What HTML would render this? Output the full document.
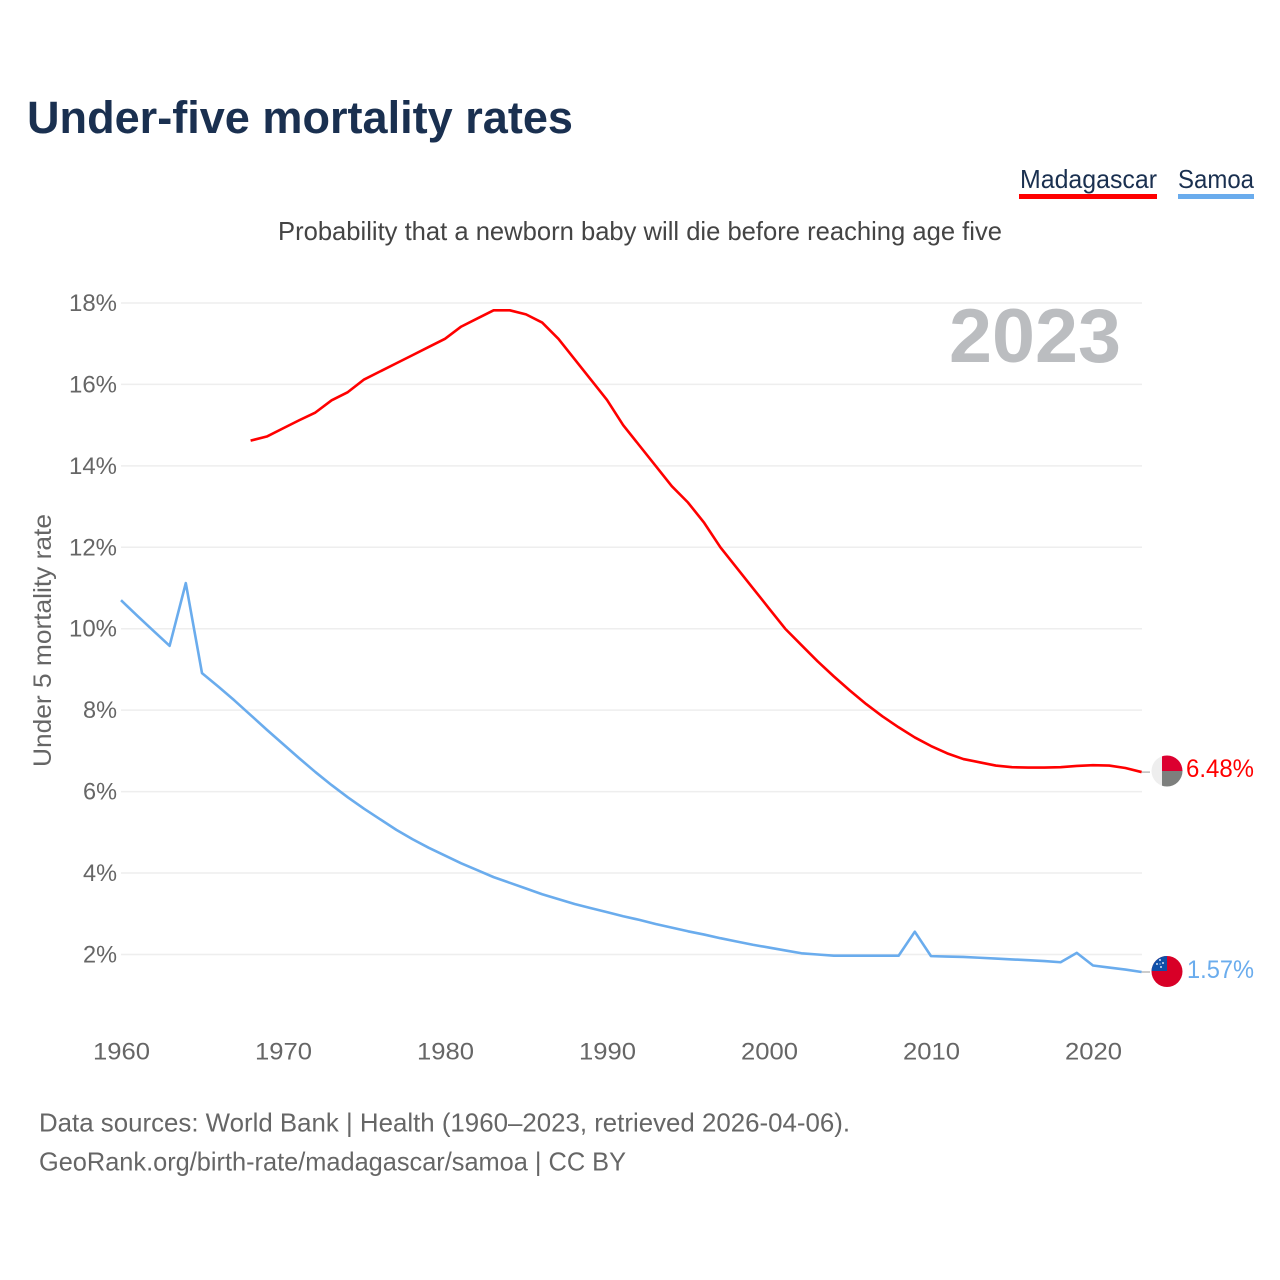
<!DOCTYPE html>
<html lang="en">
<head>
<meta charset="utf-8">
<title>Under-five mortality rates</title>
<style>
html,body{margin:0;padding:0;background:#fff;}
svg{display:block;font-family:"Liberation Sans",sans-serif;}
</style>
</head>
<body>
<svg id="chart" width="1280" height="1280" viewBox="0 0 1280 1280" xmlns="http://www.w3.org/2000/svg">
  <rect width="1280" height="1280" fill="#fff"/>
  <text x="27" y="133" font-size="45" font-weight="700" fill="#1a3050" textLength="546" lengthAdjust="spacingAndGlyphs">Under-five mortality rates</text>
  <g>
    <text x="1020" y="188" font-size="26" fill="#1a3050" textLength="137" lengthAdjust="spacingAndGlyphs">Madagascar</text>
    <rect x="1019" y="194" width="138" height="5" fill="#ff0000"/>
  </g>
  <g>
    <text x="1178" y="188" font-size="26" fill="#1a3050" textLength="76" lengthAdjust="spacingAndGlyphs">Samoa</text>
    <rect x="1178" y="194" width="76" height="5" fill="#6aaced"/>
  </g>
  <text x="278" y="240" font-size="26" fill="#444" textLength="724" lengthAdjust="spacingAndGlyphs">Probability that a newborn baby will die before reaching age five</text>
  <g id="grid"></g>
  <g id="yticks"></g>
  <g id="xticks"></g>
  <text transform="translate(51,767) rotate(-90)" x="0" y="0" font-size="25" fill="#666" textLength="253" lengthAdjust="spacingAndGlyphs">Under 5 mortality rate</text>
  <text x="949" y="362" font-size="76" font-weight="700" fill="#bbbdc0" textLength="172" lengthAdjust="spacingAndGlyphs">2023</text>
  <g id="series"></g>

  <g>
    <clipPath id="clipMg"><circle cx="1167" cy="771" r="15.5"/></clipPath>
    <g clip-path="url(#clipMg)">
      <rect x="1151" y="755" width="11" height="32" fill="#eeeeee"/>
      <rect x="1162" y="755" width="21" height="16" fill="#dc0030"/>
      <rect x="1162" y="771" width="21" height="16" fill="#7d7f7d"/>
    </g>
  </g>
  <g>
    <clipPath id="clipWs"><circle cx="1167" cy="971.5" r="15.5"/></clipPath>
    <g clip-path="url(#clipWs)">
      <rect x="1151" y="955" width="32" height="33" fill="#d80027"/>
      <rect x="1151" y="955" width="16" height="16" fill="#0f4fa8"/>
      <g fill="#cfe0f5">
        <circle cx="1160" cy="960" r="1"/>
        <circle cx="1157" cy="964" r="1"/>
        <circle cx="1163" cy="963" r="1"/>
        <circle cx="1161" cy="967" r="1"/>
        <circle cx="1160" cy="964" r="0.6"/>
      </g>
    </g>
  </g>
  <text x="1186" y="777" font-size="25" fill="#ff0000" textLength="68" lengthAdjust="spacingAndGlyphs">6.48%</text>
  <text x="1187" y="978" font-size="25" fill="#6aaced" textLength="67" lengthAdjust="spacingAndGlyphs">1.57%</text>
  <text x="39" y="1131.5" font-size="26" fill="#666" textLength="811" lengthAdjust="spacingAndGlyphs">Data sources: World Bank | Health (1960–2023, retrieved 2026-04-06).</text>
  <text x="39" y="1170.5" font-size="26" fill="#666" textLength="587" lengthAdjust="spacingAndGlyphs">GeoRank.org/birth-rate/madagascar/samoa | CC BY</text>
</svg>
<script>
var yTickValues = [2, 4, 6, 8, 10, 12, 14, 16, 18];
var xTickYears = [1960, 1970, 1980, 1990, 2000, 2010, 2020];
var madagascarStartYear = 1968;
var madagascarValues = [14.62, 14.72, 14.92, 15.12, 15.31, 15.61, 15.81, 16.12, 16.32, 16.52, 16.72, 16.92, 17.12, 17.42, 17.62, 17.82, 17.82, 17.72, 17.52, 17.12, 16.62, 16.12, 15.62, 15.0, 14.5, 14.0, 13.5, 13.1, 12.6, 12.0, 11.5, 11.0, 10.5, 10.0, 9.6, 9.2, 8.83, 8.48, 8.15, 7.85, 7.58, 7.33, 7.12, 6.94, 6.8, 6.72, 6.64, 6.6, 6.59, 6.59, 6.6, 6.63, 6.65, 6.64, 6.58, 6.48];
var samoaStartYear = 1960;
var samoaValues = [10.7, 10.32, 9.95, 9.58, 11.12, 8.91, 8.58, 8.24, 7.88, 7.52, 7.17, 6.82, 6.48, 6.16, 5.86, 5.58, 5.32, 5.06, 4.83, 4.62, 4.43, 4.24, 4.07, 3.9, 3.76, 3.62, 3.48, 3.36, 3.24, 3.14, 3.04, 2.94, 2.85, 2.75, 2.66, 2.57, 2.49, 2.4, 2.32, 2.24, 2.17, 2.1, 2.03, 2.0, 1.97, 1.97, 1.97, 1.97, 1.97, 2.56, 1.96, 1.95, 1.94, 1.92, 1.9, 1.88, 1.86, 1.84, 1.81, 2.04, 1.73, 1.68, 1.63, 1.57];

var NS = 'http://www.w3.org/2000/svg';
function xScale(year) { return 121 + (year - 1960) * 16.2; }
function yScale(v) { return 954.5 - (v - 2) * 40.72; }
function makeEl(tag, parentId) {
  var el = document.createElementNS(NS, tag);
  document.getElementById(parentId).appendChild(el);
  return el;
}

yTickValues.forEach(function (v) {
  var line = makeEl('line', 'grid');
  
  
  line.setAttribute('x1', 121);
  line.setAttribute('x2', 1142);
  line.setAttribute('y1', yScale(v));
  line.setAttribute('y2', yScale(v));
  line.setAttribute('stroke', '#eeeeee');
  line.setAttribute('stroke-width', '1.5');

  var label = makeEl('text', 'yticks');
  
  
  var w = v >= 10 ? 48 : 34;
  label.setAttribute('x', 117 - w);
  label.setAttribute('y', yScale(v) + 8);
  label.setAttribute('font-size', '24');
  label.setAttribute('fill', '#666');
  label.setAttribute('textLength', w);
  label.setAttribute('lengthAdjust', 'spacingAndGlyphs');
  label.textContent = v + '%';
});

xTickYears.forEach(function (yr) {
  var label = makeEl('text', 'xticks');
  
  
  label.setAttribute('x', xScale(yr) - 28);
  label.setAttribute('y', 1059.5);
  label.setAttribute('font-size', '24');
  label.setAttribute('fill', '#666');
  label.setAttribute('textLength', 57);
  label.setAttribute('lengthAdjust', 'spacingAndGlyphs');
  label.textContent = String(yr);
});

function pathFor(values, startYear) {
  return values.map(function (v, i) {
    return (i ? 'L' : 'M') + xScale(startYear + i).toFixed(2) + ' ' + yScale(v).toFixed(2);
  }).join(' ');
}

var mgLine = makeEl('path', 'series');


mgLine.setAttribute('d', pathFor(madagascarValues, madagascarStartYear));
mgLine.setAttribute('fill', 'none');
mgLine.setAttribute('stroke', '#ff0000');
mgLine.setAttribute('stroke-width', '2.6');
mgLine.setAttribute('stroke-linejoin', 'round');

var wsLine = makeEl('path', 'series');


wsLine.setAttribute('d', pathFor(samoaValues, samoaStartYear));
wsLine.setAttribute('fill', 'none');
wsLine.setAttribute('stroke', '#6aaced');
wsLine.setAttribute('stroke-width', '2.6');
wsLine.setAttribute('stroke-linejoin', 'round');

var mgLead = makeEl('line', 'series');


mgLead.setAttribute('x1', xScale(2023));
mgLead.setAttribute('x2', 1150);
mgLead.setAttribute('y1', yScale(madagascarValues[madagascarValues.length - 1]));
mgLead.setAttribute('y2', yScale(madagascarValues[madagascarValues.length - 1]));
mgLead.setAttribute('stroke', '#999');
mgLead.setAttribute('stroke-width', '1');

var wsLead = makeEl('line', 'series');


wsLead.setAttribute('x1', xScale(2023));
wsLead.setAttribute('x2', 1150);
wsLead.setAttribute('y1', yScale(samoaValues[samoaValues.length - 1]));
wsLead.setAttribute('y2', yScale(samoaValues[samoaValues.length - 1]));
wsLead.setAttribute('stroke', '#999');
wsLead.setAttribute('stroke-width', '1');
</script>
</body>
</html>
